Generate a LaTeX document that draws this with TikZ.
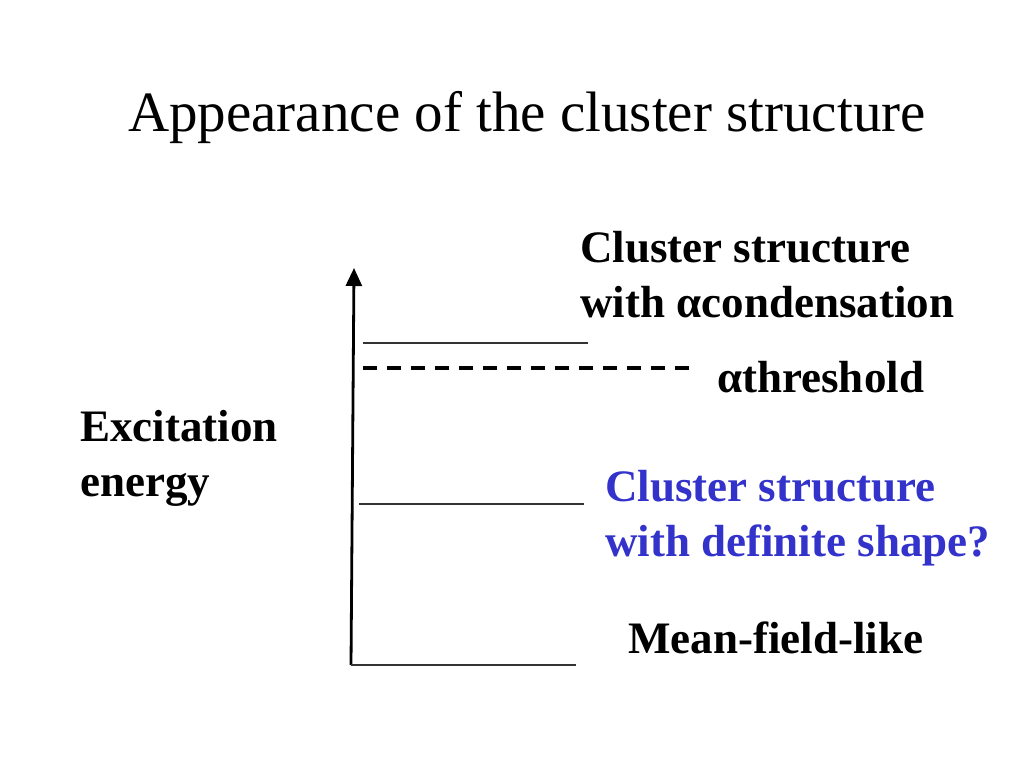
\documentclass[tikz,border=0pt]{standalone}
\usepackage{fontspec}
\setmainfont{Liberation Serif}
\usetikzlibrary{arrows.meta}
\definecolor{qblue}{RGB}{51,51,204}
\begin{document}
\begin{tikzpicture}[x=1pt,y=-1pt,
  lbl/.style={anchor=base west,inner sep=0pt,font=\fontsize{45}{55}\selectfont\bfseries,align=left},
  level/.style={draw=black!80,line width=1.4pt},
  axis/.style={draw=black,line width=2.8pt,-{Triangle[length=18pt,width=16pt]}}]
\useasboundingbox (0,0) rectangle (1024,768);
\node[anchor=base,inner sep=0pt,font=\fontsize{57}{66}\selectfont] (title) at (527,131) {Appearance of the cluster structure};
% axis
\coordinate (a0) at (351,665);
\coordinate (a1) at (354,268);
\draw[axis] (a0) -- (a1);
% levels
\coordinate (l1a) at (363,343); \coordinate (l1b) at (588,343);
\coordinate (tha) at (363,368); \coordinate (thb) at (694,368);
\coordinate (l2a) at (359,504); \coordinate (l2b) at (584,504);
\coordinate (l3a) at (351,665); \coordinate (l3b) at (576,665);
\draw[level] (l1a) -- (l1b);
\draw[line width=3.8pt,dash pattern=on 14pt off 10pt] (tha) -- (thb);
\draw[level] (l2a) -- (l2b);
\draw[level] (l3a) -- (l3b);
% labels (anchor = baseline of last line)
\node[lbl] (ca) at (580,317) {Cluster structure\\with αcondensation};
\node[lbl] (th) at (717,392) {αthreshold};
\node[lbl] (ex) at (80,496) {Excitation\\energy};
\node[lbl,text=qblue] (cd) at (605,556) {Cluster structure\\with definite shape?};
\node[lbl] (mf) at (628,653) {Mean-field-like};
\end{tikzpicture}
\end{document}
